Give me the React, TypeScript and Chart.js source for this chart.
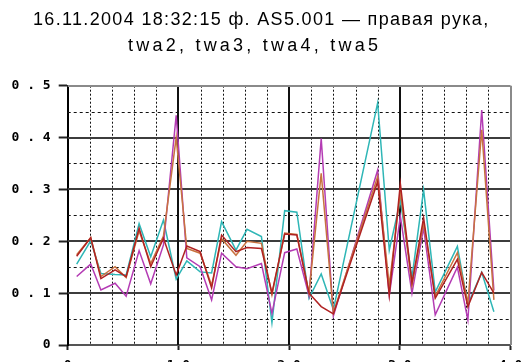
import React, { useEffect, useRef } from "react";
import { Chart, registerables } from "chart.js";

Chart.register(...registerables);

const titleLines = ["16.11.2004 18:32:15 ф. AS5.001 — правая рука,", "twa2, twa3, twa4, twa5"];

// sample positions along x
const xValues = [
  0.81, 2.08, 3.0, 4.28, 5.28, 6.45, 7.5, 8.65, 9.8, 10.76, 11.96, 13.0, 13.9, 15.2, 16.2, 17.5,
  18.45, 19.6, 20.7, 21.8, 22.9, 24.0, 28.0, 29.05, 30.05, 31.1, 32.15, 33.2, 35.2, 36.15, 37.4, 38.5,
];

const twa2 = [
  0.156, 0.201, 0.138, 0.136, 0.135, 0.234, 0.17, 0.241, 0.127, 0.162, 0.141, 0.139, 0.238, 0.183, 0.223, 0.209,
  0.043, 0.259, 0.256, 0.09, 0.137, 0.068, 0.467, 0.183, 0.279, 0.13, 0.299, 0.102, 0.19, 0.078, 0.14, 0.064,
];
const twa3 = [
  0.132, 0.156, 0.106, 0.119, 0.094, 0.182, 0.118, 0.193, 0.443, 0.168, 0.151, 0.087, 0.177, 0.151, 0.147, 0.157,
  0.061, 0.178, 0.185, 0.095, 0.398, 0.056, 0.337, 0.096, 0.248, 0.1, 0.226, 0.058, 0.15, 0.048, 0.453, 0.105,
];
const twa4 = [
  0.174, 0.207, 0.132, 0.151, 0.13, 0.22, 0.157, 0.21, 0.4, 0.186, 0.177, 0.115, 0.205, 0.173, 0.2, 0.196,
  0.097, 0.216, 0.213, 0.1, 0.331, 0.062, 0.325, 0.115, 0.295, 0.115, 0.235, 0.094, 0.178, 0.08, 0.415, 0.087,
];
const twa5 = [
  0.171, 0.207, 0.128, 0.145, 0.132, 0.225, 0.151, 0.206, 0.135, 0.191, 0.18, 0.11, 0.212, 0.18, 0.188, 0.186,
  0.1, 0.214, 0.212, 0.1, 0.074, 0.06, 0.315, 0.096, 0.311, 0.12, 0.245, 0.09, 0.165, 0.074, 0.14, 0.1,
];

const yTicks = [0, 0.1, 0.2, 0.3, 0.4, 0.5];
const xTicks = [0, 10, 20, 30, 40];

const COLORS = {
  twa2: "#2eb6b6",
  twa3: "#b43cb4",
  twa4: "#c8733f",
  twa5: "#b02222",
};

// title layout (style only): line centre x, baseline y, target width
const TITLE_STYLE = [
  { cx: 260.5, base: 25, width: 455 },
  { cx: 253, base: 50.5, width: 250 },
];

const spaced = (s: string) => s.split("").join(" ");

const titlePlugin = {
  id: "customTitle",
  afterDraw(chart: any) {
    const ctx = chart.ctx;
    ctx.save();
    ctx.fillStyle = "#000";
    ctx.font = "18px 'Liberation Sans', Arial, sans-serif";
    ctx.textAlign = "left";
    ctx.textBaseline = "alphabetic";
    titleLines.forEach((line, i) => {
      const st = TITLE_STYLE[i];
      (ctx as any).letterSpacing = "0px";
      const w0 = ctx.measureText(line).width;
      const n = Array.from(line).length;
      const ls = Math.max(0, (st.width - w0) / Math.max(1, n - 1));
      (ctx as any).letterSpacing = ls.toFixed(2) + "px";
      ctx.fillText(line, st.cx - st.width / 2, st.base);
    });
    (ctx as any).letterSpacing = "0px";
    ctx.restore();
  },
};

const gridPlugin = {
  id: "customGrid",
  beforeDatasetsDraw(chart: any) {
    const { ctx, chartArea: a, scales } = chart;
    const x = scales.x;
    const y = scales.y;
    const hLine = (v: number) => {
      const py = Math.round(y.getPixelForValue(v)) + 0.5;
      ctx.beginPath();
      ctx.moveTo(a.left, py);
      ctx.lineTo(a.right, py);
      ctx.stroke();
    };
    const vLine = (v: number) => {
      const px = Math.round(x.getPixelForValue(v)) + 0.5;
      ctx.beginPath();
      ctx.moveTo(px, a.top);
      ctx.lineTo(px, a.bottom);
      ctx.stroke();
    };
    ctx.save();
    ctx.lineWidth = 1;
    ctx.strokeStyle = "#111";
    ctx.setLineDash([3, 3]);
    for (let i = 0; i < yTicks.length - 1; i++) hLine((yTicks[i] + yTicks[i + 1]) / 2);
    ctx.setLineDash([2, 2]);
    for (let i = 0; i < xTicks.length - 1; i++) {
      const step = (xTicks[i + 1] - xTicks[i]) / 5;
      for (let k = 1; k < 5; k++) vLine(xTicks[i] + k * step);
    }
    ctx.setLineDash([]);
    ctx.lineWidth = 2;
    ctx.strokeStyle = "#3c3c3c";
    for (const v of yTicks.slice(1, -1)) {
      const py = Math.round(y.getPixelForValue(v));
      ctx.beginPath();
      ctx.moveTo(a.left, py);
      ctx.lineTo(a.right, py);
      ctx.stroke();
    }
    ctx.strokeStyle = "#111";
    for (const v of xTicks.slice(1, -1)) {
      const px = Math.round(x.getPixelForValue(v));
      ctx.beginPath();
      ctx.moveTo(px, a.top);
      ctx.lineTo(px, a.bottom);
      ctx.stroke();
    }
    ctx.strokeStyle = "#8a8a8a";
    ctx.beginPath();
    ctx.moveTo(a.left, Math.round(a.top));
    ctx.lineTo(a.right, Math.round(a.top));
    ctx.stroke();
    ctx.beginPath();
    ctx.moveTo(Math.round(a.right), a.top);
    ctx.lineTo(Math.round(a.right), a.bottom);
    ctx.stroke();
    ctx.restore();
  },
};

const series = [
  { label: "twa5", values: twa5, color: COLORS.twa5 },
  { label: "twa4", values: twa4, color: COLORS.twa4 },
  { label: "twa3", values: twa3, color: COLORS.twa3 },
  { label: "twa2", values: twa2, color: COLORS.twa2 },
];

export default function App() {
  const ref = useRef<HTMLCanvasElement | null>(null);
  useEffect(() => {
    if (!ref.current) return;
    const tickFont = { family: "'DejaVu Sans Mono', monospace", size: 13, weight: "bold" as const };
    const chart = new Chart(ref.current, {
      type: "line",
      data: {
        datasets: series.map((s) => ({
          label: s.label,
          data: xValues.map((xv, i) => ({ x: xv, y: s.values[i] })),
          borderColor: s.color,
          backgroundColor: s.color,
          borderWidth: 1.5,
          pointRadius: 0,
          tension: 0,
          fill: false,
        })),
      },
      options: {
        responsive: false,
        animation: false,
        layout: { padding: { left: 0, right: 12.5, top: 85.7, bottom: 5 } },
        plugins: {
          legend: { display: false },
          tooltip: { enabled: false },
          title: { display: false },
        },
        scales: {
          x: {
            type: "linear",
            min: 0,
            max: 40,
            afterFit: (s: any) => {
              s.height = 30;
              s.paddingLeft = 0;
              s.paddingRight = 0;
            },
            afterBuildTicks: (s: any) => {
              s.ticks = xTicks.map((v) => ({ value: v }));
            },
            ticks: {
              color: "#000",
              font: tickFont,
              padding: 8,
              maxRotation: 0,
              autoSkip: false,
              callback: (v: any) => spaced(String(v)),
            },
            grid: { drawOnChartArea: false, drawTicks: true, tickLength: 5, tickColor: "#222", tickWidth: 2 },
            border: { display: true, color: "#555", width: 2 },
          },
          y: {
            type: "linear",
            min: 0,
            max: 0.5,
            afterFit: (s: any) => {
              s.width = 67.7;
            },
            afterBuildTicks: (s: any) => {
              s.ticks = yTicks.map((v) => ({ value: v }));
            },
            ticks: {
              color: "#000",
              font: tickFont,
              padding: 8,
              autoSkip: false,
              callback: (v: any) => (Number(v) === 0 ? "0" : spaced(Number(v).toFixed(1))),
            },
            grid: { drawOnChartArea: false, drawTicks: true, tickLength: 9, tickColor: "#222", tickWidth: 2 },
            border: { display: true, color: "#000", width: 2 },
          },
        },
      },
      plugins: [gridPlugin, titlePlugin],
    });
    return () => chart.destroy();
  }, []);
  return (
    <div style={{ position: "absolute", left: 0, top: 0, width: 523, height: 380, background: "#fff" }}>
      <canvas ref={ref} width={523} height={380} style={{ display: "block" }} />
    </div>
  );
}
